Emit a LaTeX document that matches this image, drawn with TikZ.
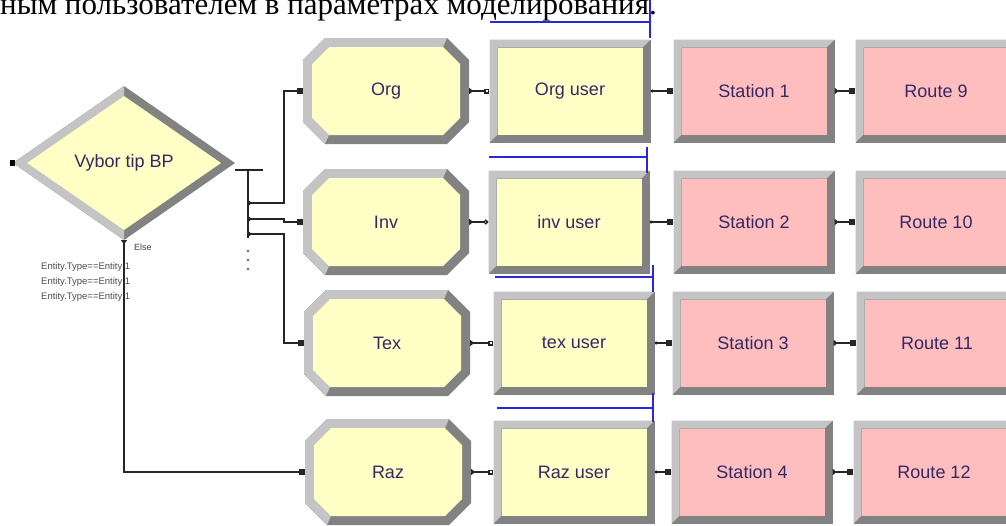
\documentclass[tikz,border=0pt]{standalone}
\usepackage{fontspec}
\setmainfont{Liberation Sans}
\newfontfamily\serifru{Liberation Serif}
\usetikzlibrary{arrows.meta}
\definecolor{boxyellow}{RGB}{255,255,198}
\definecolor{boxpink}{RGB}{255,190,190}
\definecolor{bevlight}{RGB}{196,196,196}
\definecolor{bevdark}{RGB}{130,130,130}
\definecolor{txtblue}{RGB}{52,40,100}
\definecolor{selblue}{RGB}{40,40,215}

\newcommand{\rectmod}[4]{%
  \begin{scope}[shift={(#2)}, x=1pt, y=1pt]
    \fill[bevdark] (-80.5,-51.5) rectangle (80.5,51.5);
    \fill[bevlight] (-80.5,-51.5) -- (-80.5,51.5) -- (80.5,51.5) -- (72.5,43.5) -- (-72.5,43.5) -- (-72.5,-43.5) -- cycle;
    \fill[#3] (-72.5,-43.5) rectangle (72.5,43.5);
  \end{scope}
  \node[lbl, minimum width=161, minimum height=103] (#1) at (#2) {#4};}

\newcommand{\octmod}[3]{%
  \begin{scope}[shift={(#2)}, x=1pt, y=1pt]
    \fill[bevdark] (-61,-53) -- (61,-53) -- (83,-31) -- (83,31) -- (61,53) -- (-61,53) -- (-83,31) -- (-83,-31) -- cycle;
    \fill[bevlight] (-61,-53) -- (-83,-31) -- (-83,31) -- (-61,53) -- (61,53) -- (57,44) -- (-57,44) -- (-74,27) -- (-74,-27) -- (-57,-44) -- cycle;
    \fill[boxyellow] (-57,-44) -- (57,-44) -- (74,-27) -- (74,27) -- (57,44) -- (-57,44) -- (-74,27) -- (-74,-27) -- cycle;
  \end{scope}
  \node[lbl, minimum width=166, minimum height=107] (#1) at (#2) {#3};}

\tikzset{
  lbl/.style={font=\fontsize{18}{20}\selectfont, text=txtblue, inner sep=0pt},
  wire/.style={line width=1.3, black!85},
  link/.style={wire, {Triangle[reversed,length=4pt,width=6pt]}-{Square[length=6pt,width=6pt]}},
  userlink/.style={wire, {Triangle[reversed,length=4pt,width=6pt]}-{Square[open,length=5pt,width=5pt]}},
  outlink/.style={wire, {Circle[length=3pt]}-{Square[length=6pt,width=6pt]}},
  cond/.style={font=\fontsize{9.5}{10}\selectfont, text=black!70, inner sep=0pt, anchor=west},
  bracket/.style={selblue, line width=1.4}
}

\begin{document}
\begin{tikzpicture}[x=1pt, y=-1pt]
  \useasboundingbox (0,0) rectangle (1006,525);
  \clip (0,0) rectangle (1006,525);

  \node[anchor=base west, inner sep=0pt, font=\serifru\fontsize{31}{31}\selectfont] (toptext) at (0,14) {ным пользователем в параметрах моделирования.};

  \begin{scope}[shift={(124,163)}, x=1pt, y=1pt]
    \fill[bevdark] (-111,0) -- (0,77) -- (111,0) -- (0,-77) -- cycle;
    \fill[bevlight] (0,77) -- (-111,0) -- (0,-77) -- (0,-67) -- (-97,0) -- (0,67) -- cycle;
    \fill[boxyellow] (-97,0) -- (0,67) -- (97,0) -- (0,-67) -- cycle;
  \end{scope}
  \node[lbl, minimum width=222, minimum height=154] (vybor) at (124,163) {Vybor tip BP};

  \octmod{org}{386,91}{Org}
  \octmod{inv}{386,222}{Inv}
  \octmod{tex}{387,343}{Tex}
  \octmod{raz}{388,472}{Raz}

  \rectmod{orgu}{570,91}{boxyellow}{Org user}
  \rectmod{invu}{569,222}{boxyellow}{inv user}
  \rectmod{texu}{574,343}{boxyellow}{tex user}
  \rectmod{razu}{574,472}{boxyellow}{Raz user}

  \rectmod{st1}{754,91}{boxpink}{Station 1}
  \rectmod{st2}{754,222}{boxpink}{Station 2}
  \rectmod{st3}{753,343}{boxpink}{Station 3}
  \rectmod{st4}{752,472}{boxpink}{Station 4}

  \rectmod{rt9}{936,91}{boxpink}{Route 9}
  \rectmod{rt10}{936,222}{boxpink}{Route 10}
  \rectmod{rt11}{937,343}{boxpink}{Route 11}
  \rectmod{rt12}{934,472}{boxpink}{Route 12}

  \fill[black] ([shift={(-3pt,-3pt)}]vybor.west) rectangle ([shift={(2pt,3pt)}]vybor.west);

  \coordinate (barl) at (235,170);
  \coordinate (barr) at (263,170);
  \coordinate (bustop) at (248,170);
  \coordinate (bus1) at (248,203);
  \coordinate (bus2) at (248,219);
  \coordinate (bus3) at (248,234);
  \coordinate (busend) at (248,238);
  \draw[wire] (barl) -- (barr);
  \draw[wire] (bustop) -- (busend);
  \foreach \y in {251,260,269}
    \fill[black!60] (248,\y) circle (1.4);

  \draw[link] (bus1) -- ++(36,0) |- (org.west);
  \draw[link] (bus2) -- ++(36,0) |- (inv.west);
  \draw[link] (bus3) -- ++(36,0) |- (tex.west);
  \draw[link] (vybor.south) |- (raz.west);
  \node[font=\fontsize{9}{10}\selectfont, text=black!75, anchor=west, inner sep=0pt] (elsetxt) at (134,247) {Else};

  \node[cond] (c1) at (41,267) {Entity.Type==Entity 1};
  \node[cond] (c2) at (41,282) {Entity.Type==Entity 1};
  \node[cond] (c3) at (41,297) {Entity.Type==Entity 1};

  \draw[userlink] (org) -- (orgu);
  \draw[wire, {Triangle[reversed,length=4pt,width=6pt]}-{Circle[open,length=5pt]}] (inv) -- (invu);
  \draw[userlink] (tex) -- (texu);
  \draw[userlink] (raz) -- (razu);

  \draw[outlink] (orgu) -- (st1);
  \draw[outlink] (invu) -- (st2);
  \draw[outlink] (texu) -- (st3);
  \draw[outlink] (razu) -- (st4);

  \draw[link] (st1) -- (rt9);
  \draw[link] (st2) -- (rt10);
  \draw[link] (st3) -- (rt11);
  \draw[link] (st4) -- (rt12);

  \draw[bracket] (490,22) -- (650,22) (650,0) -- (650,38);
  \draw[bracket] (489,157) -- (647,157) (647,147) -- (647,173);
  \draw[bracket] (495,277) -- (653,277) (653,265) -- (653,292);
  \draw[bracket] (497,408) -- (653,408) (653,393) -- (653,422);
\end{tikzpicture}
\end{document}
